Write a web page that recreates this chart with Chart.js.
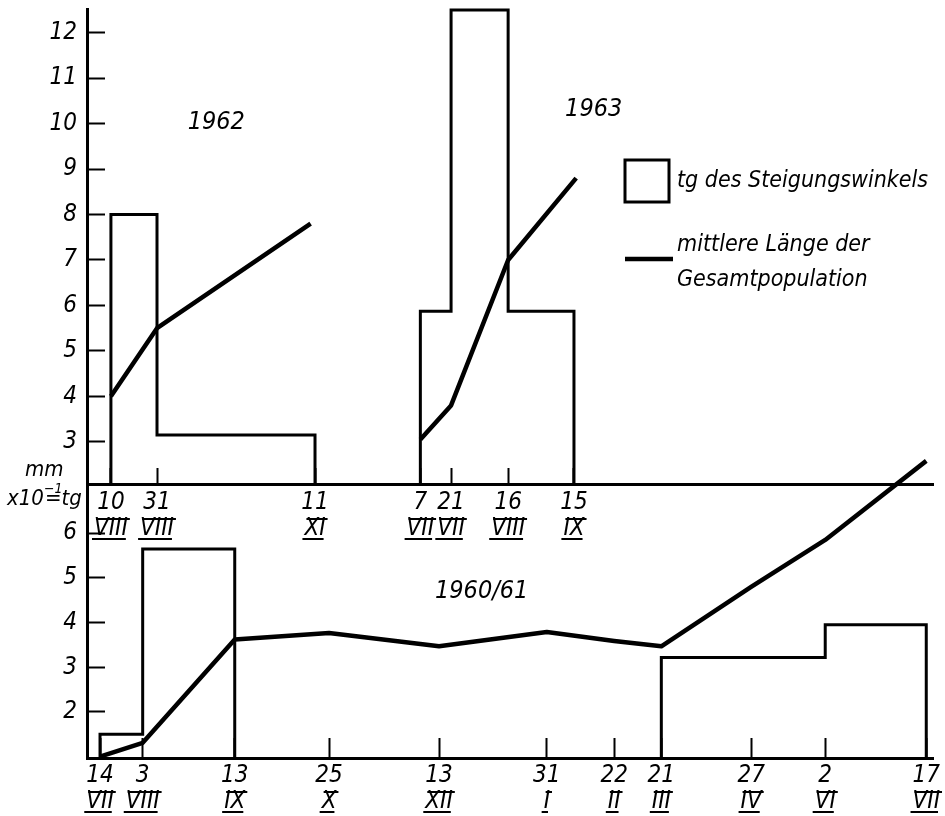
<!DOCTYPE html>
<html>
<head>
<meta charset="utf-8">
<title>tg des Steigungswinkels / mittlere Länge</title>
<script src="https://cdn.jsdelivr.net/npm/chart.js@4.4.1/dist/chart.umd.min.js"></script>
<style>
  html, body { margin: 0; padding: 0; background: #fff; }
  #wrap { width: 945px; height: 816px; }
</style>
</head>
<body>
<div id="wrap"><canvas id="chart" width="945" height="816"></canvas></div>
<script>
// --- DATA ---
// upper panel: x in days after 10 VIII 1962 (the 1963 block is set to the right of it)
const topTickDays = [0, 21, 93, 141, 155, 181, 211];
const topTickDay = ["10", "31", "11", "7", "21", "16", "15"];
const topTickMonth = ["VIII", "VIII", "XI", "VII", "VII", "VIII", "IX"];
const topYTicks = [3, 4, 5, 6, 7, 8, 9, 10, 11, 12];

const tg1962Edges = [0, 21, 93];
const tg1962 = [8.0, 3.15];
const tg1963Edges = [141, 155, 181, 211];
const tg1963 = [5.87, 12.5, 5.87];

const len1962Days = [0, 21, 91];
const len1962 = [4.0, 5.5, 7.8];
const len1963Days = [141, 155, 181, 212];
const len1963 = [3.05, 3.8, 7.0, 8.8];

// lower panel 1960/61: x in days after 14 VII 1960
const botTickDays = [0, 19, 60, 102, 151, 199, 229, 250, 290, 323, 368];
const botTickDay = ["14", "3", "13", "25", "13", "31", "22", "21", "27", "2", "17"];
const botTickMonth = ["VII", "VIII", "IX", "X", "XII", "I", "II", "III", "IV", "VI", "VII"];
const botYTicks = [2, 3, 4, 5, 6];

const tg1960Edges = [0, 19, 60];
const tg1960 = [1.5, 5.65];
const tg1961Edges = [250, 323, 368];
const tg1961 = [3.22, 3.95];

const len6061Days = [0, 19, 60, 102, 151, 199, 229, 250, 290, 323, 368];
const len6061 = [1.0, 1.31, 3.62, 3.77, 3.47, 3.79, 3.59, 3.47, 4.8, 5.85, 7.62];

// --- CONFIGURATION ---
const FONT = "'Liberation Sans Narrow', 'DejaVu Sans Condensed', 'Liberation Sans', sans-serif";
const BASE_TOP = 2.05; // value of the upper baseline
const BASE_BOT = 0.97; // value of the lower baseline
const TICK_SIZE = 24;
const LINE_H = 1.08;

const tickFont = { family: FONT, size: TICK_SIZE, style: "italic", lineHeight: LINE_H };

// step outline: up at first edge, across each class, down at last edge
function stepOutline(edges, values, base) {
  const pts = [{ x: edges[0], y: base }];
  values.forEach((v, i) => pts.push({ x: edges[i], y: v }));
  pts.push({ x: edges[edges.length - 1], y: base });
  return pts;
}

function points(xs, ys) {
  return xs.map((x, i) => ({ x, y: ys[i] }));
}

function outline(data, xAxisID, yAxisID) {
  return {
    label: "tg des Steigungswinkels",
    data, xAxisID, yAxisID,
    stepped: "before",
    borderColor: "#000",
    borderWidth: 3,
    borderJoinStyle: "miter",
    pointRadius: 0,
    fill: false,
    clip: false,
  };
}

function meanLine(data, xAxisID, yAxisID) {
  return {
    label: "mittlere Länge der Gesamtpopulation",
    data, xAxisID, yAxisID,
    borderColor: "#000",
    borderWidth: 4.5,
    borderJoinStyle: "round",
    tension: 0,
    pointRadius: 0,
    fill: false,
    clip: false,
  };
}

const GAP = 5; // space between tick mark base and the label block

function xAxis(min, max, position, days, dayLabels, monthLabels, tick, height) {
  return {
    type: "linear",
    position,
    min, max,
    afterBuildTicks: (s) => { s.ticks = days.map((v) => ({ value: v })); },
    afterFit: (s) => {
      if (height) s.height = height;
      s.paddingLeft = 0;
      s.paddingRight = 0;
    },
    ticks: {
      callback: (v, i) => [dayLabels[i], monthLabels[i]],
      font: tickFont,
      color: "#000",
      padding: tick + GAP,
      maxRotation: 0,
      autoSkip: false,
    },
    grid: { drawOnChartArea: false, tickLength: -tick, tickWidth: 2, tickColor: "#000" },
    border: { color: "#000", width: 3 },
  };
}

function yAxis(min, max, weight, values) {
  return {
    type: "linear",
    position: "left",
    stack: "panels",
    stackWeight: weight,
    min, max,
    afterBuildTicks: (s) => { s.ticks = values.map((v) => ({ value: v })); },
    afterFit: (s) => { s.width = 87; s.paddingTop = 0; s.paddingBottom = 0; },
    ticks: { font: tickFont, color: "#000", padding: 28, autoSkip: false },
    grid: { drawOnChartArea: false, tickLength: -18, tickWidth: 2, tickColor: "#000" },
    border: { color: "#000", width: 3 },
  };
}

const panelLabels = [
  { text: "1962", x: 48, y: 10.03, xAxis: "xTop", yAxis: "yTop" },
  { text: "1963", x: 220, y: 10.3, xAxis: "xTop", yAxis: "yTop" },
  { text: "1960/61", x: 170, y: 4.7, xAxis: "xBot", yAxis: "yBot" },
];

// bars above and below the roman month numerals, as in the printed figure
function romanBars(ctx, scale, baseY, days, months) {
  const lh = TICK_SIZE * LINE_H;
  const cy = baseY + GAP + lh * 1.5;
  ctx.font = `italic ${TICK_SIZE}px ${FONT}`;
  ctx.lineWidth = 2;
  days.forEach((d, i) => {
    const x = scale.getPixelForValue(d);
    const w = ctx.measureText(months[i]).width;
    ctx.beginPath();
    ctx.moveTo(x - w / 2 + 2, cy - 10);
    ctx.lineTo(x + w / 2 + 2, cy - 10);
    ctx.moveTo(x - w / 2 - 2, cy + 10);
    ctx.lineTo(x + w / 2 - 2, cy + 10);
    ctx.stroke();
  });
}

const figureText = {
  id: "figureText",
  afterDraw(chart) {
    const { ctx, scales } = chart;
    ctx.save();
    ctx.fillStyle = "#000";
    ctx.strokeStyle = "#000";
    ctx.textBaseline = "middle";

    ctx.font = `italic 25px ${FONT}`;
    ctx.textAlign = "center";
    panelLabels.forEach((p) => {
      ctx.fillText(p.text, scales[p.xAxis].getPixelForValue(p.x), scales[p.yAxis].getPixelForValue(p.y));
    });

    romanBars(ctx, scales.xTop, scales.yTop.getPixelForValue(BASE_TOP), topTickDays, topTickMonth);
    romanBars(ctx, scales.xBot, scales.xBot.top, botTickDays, botTickMonth);

    // unit text at the left of the upper baseline
    ctx.textAlign = "left";
    ctx.font = `italic 22px ${FONT}`;
    ctx.fillText("mm", 25, 470);
    let x = 7;
    ctx.fillText("x10", x, 499);
    x += ctx.measureText("x10").width;
    ctx.font = `italic 14px ${FONT}`;
    ctx.fillText("−1", x, 489);
    ctx.font = `italic 22px ${FONT}`;
    ctx.fillText("=tg", x + 1, 499);

    // legend
    ctx.lineWidth = 3;
    ctx.strokeRect(625, 160, 44, 42);
    ctx.lineWidth = 4.5;
    ctx.beginPath();
    ctx.moveTo(625, 259);
    ctx.lineTo(673, 259);
    ctx.stroke();
    ctx.font = `italic 23px ${FONT}`;
    ctx.fillText("tg des Steigungswinkels", 677, 181);
    ctx.fillText("mittlere Länge der", 677, 245);
    ctx.fillText("Gesamtpopulation", 677, 280);
    ctx.restore();
  },
};

// --- CHART ---
new Chart(document.getElementById("chart"), {
  type: "line",
  data: {
    datasets: [
      outline(stepOutline(tg1962Edges, tg1962, BASE_TOP), "xTop", "yTop"),
      outline(stepOutline(tg1963Edges, tg1963, BASE_TOP), "xTop", "yTop"),
      outline(stepOutline(tg1960Edges, tg1960, BASE_BOT), "xBot", "yBot"),
      outline(stepOutline(tg1961Edges, tg1961, BASE_BOT), "xBot", "yBot"),
      meanLine(points(len1962Days, len1962), "xTop", "yTop"),
      meanLine(points(len1963Days, len1963), "xTop", "yTop"),
      meanLine(points(len6061Days, len6061), "xBot", "yBot"),
    ],
  },
  options: {
    responsive: false,
    animation: false,
    layout: { padding: { top: 9, right: 12, bottom: 0, left: 0 } },
    plugins: { legend: { display: false }, tooltip: { enabled: false } },
    scales: {
      xBot: xAxis(-5.8, 371, "bottom", botTickDays, botTickDay, botTickMonth, 20, 58),
      xTop: xAxis(-10.9, 374.6, { yTop: BASE_TOP }, topTickDays, topTickDay, topTickMonth, 18, 0),
      yBot: yAxis(BASE_BOT, 7.08, 273, botYTicks),
      yTop: yAxis(BASE_TOP, 12.52, 476, topYTicks),
    },
  },
  plugins: [figureText],
});
</script>
</body>
</html>
